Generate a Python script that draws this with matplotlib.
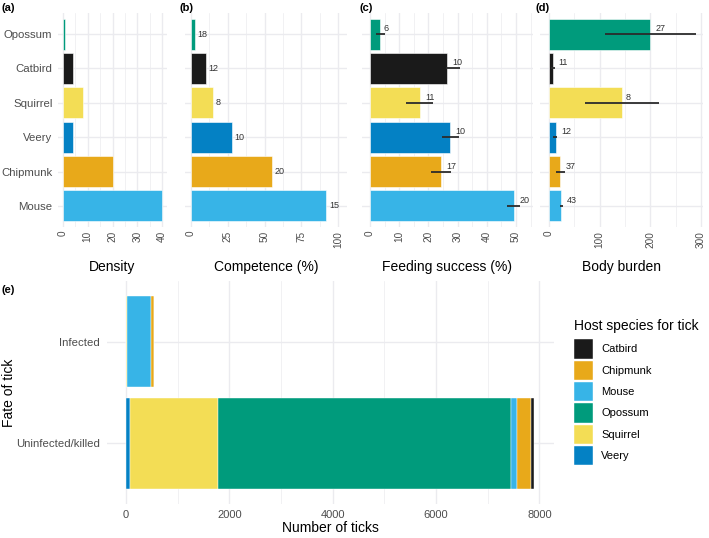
import matplotlib
matplotlib.use("Agg")
import matplotlib.pyplot as plt
import numpy as np

plt.rcParams['font.family'] = ['Liberation Sans', 'DejaVu Sans']

# ---------------- data ----------------
species_rows = ["Mouse", "Chipmunk", "Veery", "Squirrel", "Catbird", "Opossum"]  # bottom -> top

density = [40, 20, 4.2, 8, 4.2, 1]

competence = [92, 55, 28, 15, 10, 3]
competence_n = ["15", "20", "10", "8", "12", "18"]

feeding = [49.3, 24.2, 27.5, 17, 26.5, 3.5]
feeding_lo = [47, 20.8, 24.5, 12.5, 26, 2.2]
feeding_hi = [51.5, 27.8, 30.5, 21.5, 30.8, 5.2]
feeding_n = ["20", "17", "10", "11", "10", "6"]

burden = [23.7, 21.7, 13, 145, 8.5, 200]
burden_lo = [21.7, 13, 8.5, 72, 4, 110]
burden_hi = [27, 31.5, 16.4, 218, 11, 290]
burden_n = ["43", "37", "12", "8", "11", "27"]

fates = ["Uninfected/killed", "Infected"]  # bottom -> top
stack_order = ["Veery", "Squirrel", "Opossum", "Mouse", "Chipmunk", "Catbird"]  # left -> right
ticks_by_species = {
    "Veery":    [77, 0],
    "Squirrel": [1698, 25],
    "Opossum":  [5676, 4],
    "Mouse":    [110, 455],
    "Chipmunk": [271, 62],
    "Catbird":  [64, 2],
}
legend_order = ["Catbird", "Chipmunk", "Mouse", "Opossum", "Squirrel", "Veery"]

colors = {
    "Catbird": "#1A1A1A",
    "Chipmunk": "#E8A91A",
    "Mouse": "#37B4E7",
    "Opossum": "#009B7C",
    "Squirrel": "#F3DD55",
    "Veery": "#0481C4",
}

# ---------------- layout ----------------
W, H = 709, 538
fig = plt.figure(figsize=(W / 100, H / 100), dpi=100)


def px_axes(x0, x1, y0, y1):
    return fig.add_axes([x0 / W, 1 - y1 / H, (x1 - x0) / W, (y1 - y0) / H])


GRID = "#EBEBEF"
TICKC = "#4D4D4D"


def style(ax):
    for s in ax.spines.values():
        s.set_visible(False)
    ax.set_facecolor("white")
    ax.tick_params(which="both", length=0, colors=TICKC, labelsize=8)
    ax.grid(True, which="major", color=GRID, lw=1.0, zorder=0)
    ax.grid(True, which="minor", axis="x", color=GRID, lw=0.5, zorder=0)
    ax.set_axisbelow(True)


ypos = np.arange(1, len(species_rows) + 1)
bar_cols = [colors[s] for s in species_rows]

panels = [
    (58, 167, (-2, 42), [0, 10, 20, 30, 40], 5, "Density", "(a)", 2),
    (185, 347, (-4, 106), [0, 25, 50, 75, 100], 12.5, "Competence (%)", "(b)", 179),
    (362, 533, (-2.7, 55.8), [0, 10, 20, 30, 40, 50], 5, "Feeding success (%)", "(c)", 359),
    (540, 703, (-17.8, 304), [0, 100, 200, 300], 50, "Body burden", "(d)", 536),
]
values = [density, competence, feeding, burden]
axes = []
for i, (x0, x1, xl, xt, minor, title, tag, tagx) in enumerate(panels):
    ax = px_axes(x0, x1, 13.4, 226.6)
    style(ax)
    ax.barh(ypos, values[i], height=0.9, color=bar_cols, edgecolor="white", linewidth=0.4, zorder=2)
    ax.set_xlim(*xl)
    ax.set_ylim(0.4, 6.6)
    ax.set_xticks(xt)
    minors = [v + minor for v in xt[:-1]]
    if xt[-1] + minor < xl[1]:
        minors.append(xt[-1] + minor)
    ax.set_xticks(minors, minor=True)
    ax.set_xticklabels([str(v) for v in xt], rotation=90, va="top", ha="center", fontsize=7.2)
    ax.tick_params(axis="x", pad=3)
    ax.set_yticks(ypos)
    if i == 0:
        ax.set_yticklabels(species_rows, fontsize=8.2)
        ax.tick_params(axis="y", pad=4)
    else:
        ax.set_yticklabels([])
    fig.text((x0 + x1) / 2 / W, 1 - 267 / H, title, ha="center", va="center", fontsize=10)
    fig.text(tagx / W, 1 - 8 / H, tag, ha="left", va="center", fontsize=8, fontweight="bold")
    axes.append(ax)

# labels panel b
for y, v, n in zip(ypos, competence, competence_n):
    axes[1].annotate(n, (v, y), xytext=(1.8, 0), textcoords="offset points",
                     ha="left", va="center", fontsize=6.5, color="#333333")

# error bars + labels panels c, d
for ax, v, lo, hi, ns in [(axes[2], feeding, feeding_lo, feeding_hi, feeding_n),
                          (axes[3], burden, burden_lo, burden_hi, burden_n)]:
    ax.hlines(ypos, lo, hi, color="#2B2B2B", lw=1.3, zorder=3)
    for y, val, n in zip(ypos, v, ns):
        off = 0.5 * len(n) * 0.556 * 6.5 + 0.3
        ax.annotate(n, (val, y), xytext=(off, 4), textcoords="offset points",
                    ha="left", va="center", fontsize=6.5, color="#333333")

# ---------------- panel e ----------------
axe = px_axes(106.7, 554, 280.7, 504.3)
style(axe)
fpos = np.arange(1, len(fates) + 1)
left = np.zeros(len(fates))
handles = {}
for sp in stack_order:
    vals = np.array(ticks_by_species[sp], dtype=float)
    handles[sp] = axe.barh(fpos, vals, left=left, height=0.9, color=colors[sp],
                           edgecolor="white", linewidth=0.3, zorder=2, label=sp)
    left += vals
axe.set_xlim(-373, 8283)
axe.set_ylim(0.4, 2.6)
axe.set_xticks([0, 2000, 4000, 6000, 8000])
axe.set_xticks([1000, 3000, 5000, 7000], minor=True)
axe.set_yticks(fpos)
axe.set_yticklabels(fates, fontsize=8.2)
axe.tick_params(axis="y", pad=5)
axe.tick_params(axis="x", pad=4)
fig.text(330 / W, 1 - 528 / H, "Number of ticks", ha="center", va="center", fontsize=10)
fig.text(9 / W, 1 - 392.5 / H, "Fate of tick", ha="center", va="center", fontsize=10, rotation=90)
fig.text(2 / W, 1 - 290 / H, "(e)", ha="left", va="center", fontsize=8, fontweight="bold")

leg = fig.legend([handles[s] for s in legend_order], legend_order,
                 loc="upper left", bbox_to_anchor=(574 / W, 1 - 319 / H),
                 bbox_transform=fig.transFigure, frameon=False,
                 fontsize=8, title="Host species for tick", title_fontsize=10,
                 alignment="left", borderpad=0, borderaxespad=0,
                 handlelength=1.74, handleheight=2.3, labelspacing=0.18,
                 handletextpad=0.7)
leg.get_title().set_color("black")
try:
    leg._legend_box.sep = 4.5
except Exception:
    pass

fig.savefig("out.png", dpi=100, facecolor="white")
